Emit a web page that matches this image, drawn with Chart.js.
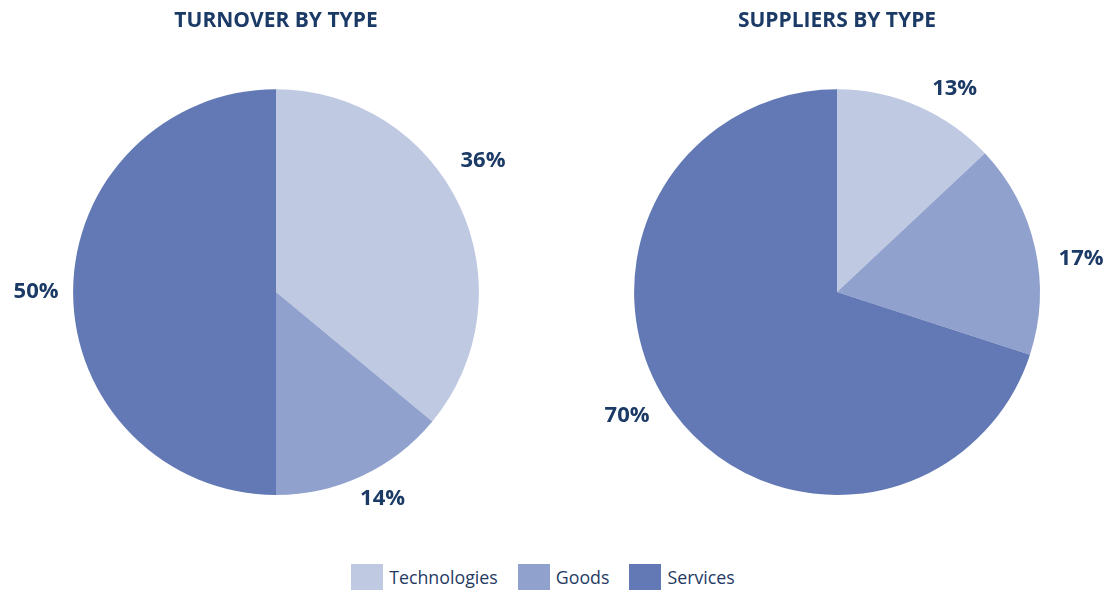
<!DOCTYPE html>
<html>
<head>
<meta charset="utf-8">
<script src="https://cdn.jsdelivr.net/npm/chart.js@4/dist/chart.umd.min.js"></script>
<style>
  html, body { margin: 0; padding: 0; background: #fff; }
  body { width: 1114px; height: 591px; position: relative; overflow: hidden; font-family: "Open Sans", sans-serif; }
  .pie { position: absolute; top: 0; width: 552px; height: 540px; }
  #wrapA { left: 0; }
  #wrapB { left: 561px; }
  .legend { position: absolute; left: 0; right: 28px; top: 564px; display: flex; justify-content: center; color: #1f3a63; font-size: 17.8px; }
  .legend span { display: flex; align-items: center; margin: 0 10px; height: 26px; }
  .legend i { display: inline-block; width: 32px; height: 26px; margin-right: 6px; }
</style>
</head>
<body>
<div class="pie" id="wrapA"><canvas id="turnover"></canvas></div>
<div class="pie" id="wrapB"><canvas id="suppliers"></canvas></div>
<div class="legend" id="legend"></div>
<script>
// data
const categories = ['Technologies', 'Goods', 'Services'];
const turnoverValues = [36, 14, 50];
const supplierValues = [13, 17, 70];
const sliceColors = ['#bfc9e2', '#91a1cd', '#6279b5'];
const navy = '#1b3a66';

// small hand nudges so the labels sit where the original put them
const labelNudge = {
  turnover: [[-11, -29], [4, -11], [1, 0]],
  suppliers: [[22, 18], [9, 19], [-15, -18]]
};

// percent labels drawn just outside each slice
const outsideLabels = {
  id: 'outsideLabels',
  afterDatasetsDraw(chart) {
    const ctx = chart.ctx;
    const meta = chart.getDatasetMeta(0);
    const values = chart.data.datasets[0].data;
    const nudge = labelNudge[chart.canvas.id] || [];
    ctx.save();
    ctx.font = 'bold 22px "Open Sans", sans-serif';
    ctx.fillStyle = navy;
    ctx.textAlign = 'center';
    ctx.textBaseline = 'middle';
    meta.data.forEach((arc, i) => {
      const mid = (arc.startAngle + arc.endAngle) / 2;
      const r = arc.outerRadius + 38;
      const [nx, ny] = nudge[i] || [0, 0];
      ctx.fillText(values[i] + '%', arc.x + Math.cos(mid) * r + nx, arc.y + Math.sin(mid) * r + ny);
    });
    ctx.restore();
  }
};

function makePie(id, title, values) {
  return new Chart(document.getElementById(id), {
    type: 'pie',
    data: {
      labels: categories,
      datasets: [{ data: values, backgroundColor: sliceColors, borderWidth: 0 }]
    },
    options: {
      responsive: true,
      maintainAspectRatio: false,
      animation: false,
      layout: { padding: { bottom: 45 } },
      plugins: {
        legend: { display: false },
        tooltip: { enabled: false },
        title: {
          display: true,
          text: title,
          color: navy,
          font: { family: '"Open Sans", sans-serif', size: 21, weight: 'bold', lineHeight: 1.2 },
          padding: { top: 8, bottom: 56 }
        }
      }
    },
    plugins: [outsideLabels]
  });
}

makePie('turnover', 'TURNOVER BY TYPE', turnoverValues);
makePie('suppliers', 'SUPPLIERS BY TYPE', supplierValues);

document.getElementById('legend').innerHTML = categories
  .map((c, i) => `<span><i style="background:${sliceColors[i]}"></i>${c}</span>`)
  .join('');
</script>
</body>
</html>
